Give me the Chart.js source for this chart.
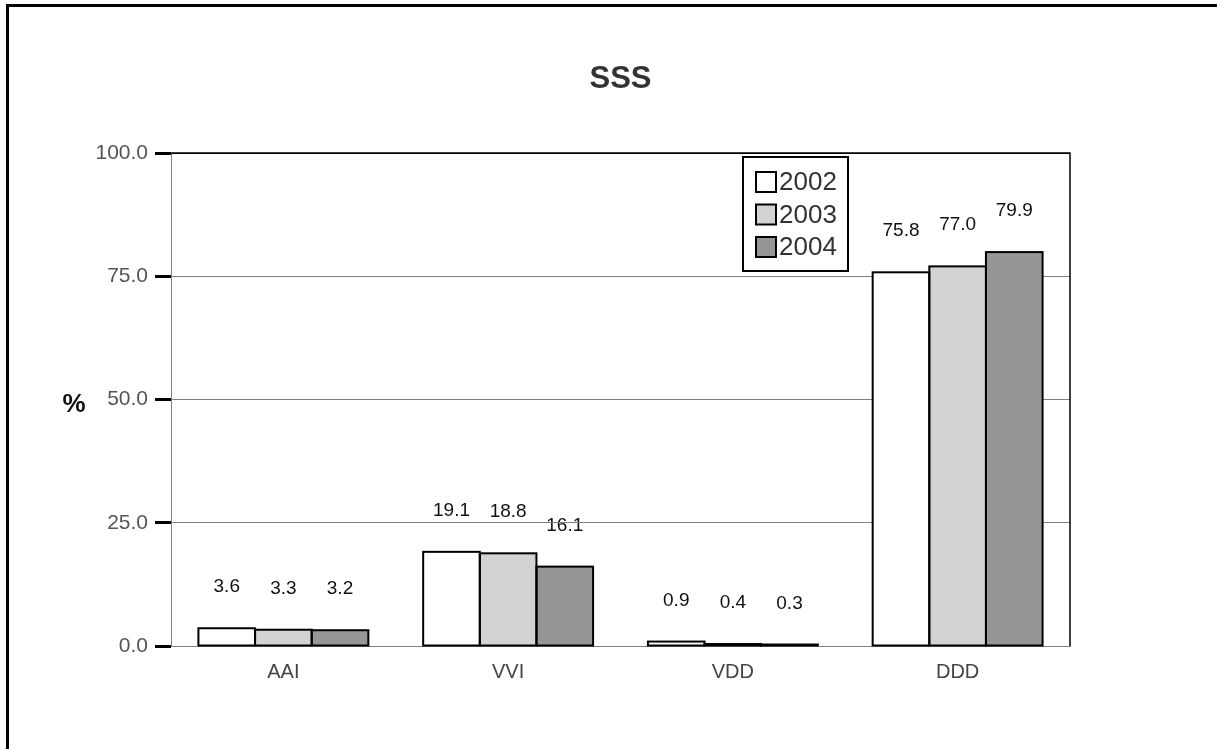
<!DOCTYPE html>
<html>
<head>
<meta charset="utf-8">
<script src="https://cdn.jsdelivr.net/npm/chart.js@4.4.1/dist/chart.umd.min.js"></script>
<style>
  html, body { margin: 0; padding: 0; background: #fff; overflow: hidden; }
  #wrap { position: relative; width: 1217px; height: 749px; }
  #frame { position: absolute; left: 6px; top: 4px; width: 1400px; height: 900px;
           border-left: 3px solid #000; border-top: 3px solid #000; }
  canvas { position: absolute; left: 0; top: 0; }
</style>
</head>
<body>
<div id="wrap">
  <div id="frame"></div>
  <canvas id="c" width="1217" height="749"></canvas>
</div>
<script>
const categories = ['AAI', 'VVI', 'VDD', 'DDD'];
const years = ['2002', '2003', '2004'];
const values2002 = [3.6, 19.1, 0.9, 75.8];
const values2003 = [3.3, 18.8, 0.4, 77.0];
const values2004 = [3.2, 16.1, 0.3, 79.9];
const yTicks = [0, 25, 50, 75, 100];
const chartTitle = 'SSS';
const yTitle = '%';

const FONT = '"Liberation Sans", Arial, sans-serif';
const fills = ['#ffffff', '#d3d3d3', '#969696'];

// Value labels sit a fixed distance above each bar; drawn before the grid lines
const valueLabels = {
  id: 'valueLabels',
  beforeDraw(chart) {
    const ctx = chart.ctx;
    ctx.save();
    ctx.font = '19px ' + FONT;
    ctx.fillStyle = '#111';
    ctx.textAlign = 'center';
    ctx.textBaseline = 'alphabetic';
    chart.data.datasets.forEach((ds, i) => {
      chart.getDatasetMeta(i).data.forEach((bar, j) => {
        ctx.fillText(ds.data[j].toFixed(1), bar.x, bar.y - 36);
      });
    });
    ctx.restore();
  }
};

// Outline each bar with a stroke centred on its edges
const barOutlines = {
  id: 'barOutlines',
  afterDatasetsDraw(chart) {
    const ctx = chart.ctx;
    ctx.save();
    ctx.strokeStyle = '#000';
    ctx.lineWidth = 2;
    chart.data.datasets.forEach((ds, i) => {
      chart.getDatasetMeta(i).data.forEach(bar => {
        const p = bar.getProps(['x', 'y', 'base', 'width'], true);
        ctx.strokeRect(p.x - p.width / 2, p.y, p.width, p.base - p.y);
      });
    });
    ctx.restore();
  }
};

// Title, axis unit, plot frame and boxed legend
const decorations = {
  id: 'decorations',
  afterDraw(chart) {
    const ctx = chart.ctx;
    const a = chart.chartArea;
    ctx.save();
    // plot frame (top and right)
    ctx.strokeStyle = '#000';
    ctx.lineWidth = 1.5;
    ctx.beginPath();
    ctx.moveTo(a.left, a.top);
    ctx.lineTo(a.right, a.top);
    ctx.lineTo(a.right, a.bottom);
    ctx.stroke();

    // title
    ctx.fillStyle = '#333';
    ctx.font = 'bold 31px ' + FONT;
    ctx.textAlign = 'center';
    ctx.textBaseline = 'middle';
    ctx.fillText(chartTitle, (a.left + a.right) / 2, 79);

    // y unit
    ctx.fillStyle = '#111';
    ctx.font = 'bold 26px ' + FONT;
    ctx.fillText(yTitle, 74, 405);

    // legend
    const lx = 743, ly = 157, lw = 105, lh = 114;
    ctx.fillStyle = '#fff';
    ctx.fillRect(lx, ly, lw, lh);
    ctx.strokeStyle = '#000';
    ctx.lineWidth = 2;
    ctx.strokeRect(lx, ly, lw, lh);
    ctx.font = '26px ' + FONT;
    ctx.textAlign = 'left';
    ctx.textBaseline = 'middle';
    chart.data.datasets.forEach((ds, i) => {
      const cy = 182 + i * 32.5;
      ctx.fillStyle = ds.backgroundColor;
      ctx.fillRect(756, cy - 10, 20, 20);
      ctx.lineWidth = 2;
      ctx.strokeStyle = '#000';
      ctx.strokeRect(756, cy - 10, 20, 20);
      ctx.fillStyle = '#333';
      ctx.fillText(ds.label, 779, cy + 1);
    });
    ctx.restore();
  }
};

new Chart(document.getElementById('c'), {
  type: 'bar',
  data: {
    labels: categories,
    datasets: [values2002, values2003, values2004].map((d, i) => ({
      label: years[i],
      data: d,
      backgroundColor: fills[i],
      borderWidth: 0,
      categoryPercentage: 0.756,
      barPercentage: 1.0
    }))
  },
  options: {
    responsive: false,
    animation: false,
    devicePixelRatio: 1,
    layout: { padding: { top: 153, right: 147, bottom: 0, left: 0 } },
    plugins: { legend: { display: false }, title: { display: false }, tooltip: { enabled: false } },
    scales: {
      x: {
        grid: { display: false, drawTicks: false },
        border: { color: '#808080', width: 1 },
        ticks: { color: '#444', font: { family: FONT, size: 20 }, padding: 14 },
        afterFit(s) { s.height = 103; }
      },
      y: {
        min: 0, max: 100,
        afterBuildTicks(s) { s.ticks = yTicks.map(v => ({ value: v })); },
        grid: {
          color: c => (c.tick && c.tick.value === 100) ? '#000' : '#808080',
          lineWidth: 1,
          tickColor: '#000',
          tickWidth: 3,
          tickLength: 16
        },
        border: { color: '#808080', width: 1 },
        ticks: {
          color: '#555',
          font: { family: FONT, size: 21 },
          padding: 7,
          callback: v => Number(v).toFixed(1)
        },
        afterFit(s) { s.width = 171; }
      }
    }
  },
  plugins: [valueLabels, barOutlines, decorations]
});
</script>
</body>
</html>
